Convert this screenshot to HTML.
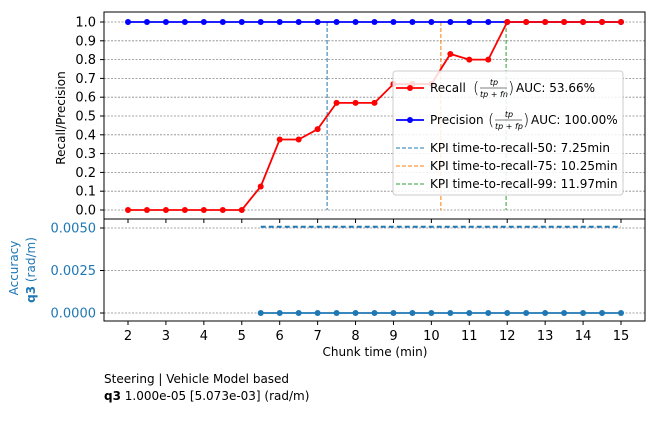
<!DOCTYPE html>
<html><head><meta charset="utf-8"><style>
body{margin:0;background:#fff;width:658px;height:430px;overflow:hidden}
svg{font-family:"DejaVu Sans","Liberation Sans",sans-serif}
</style></head><body>
<svg id="c" width="658" height="430"></svg>
<script>
const chunks=[2,2.5,3,3.5,4,4.5,5,5.5,6,6.5,7,7.5,8,8.5,9,9.5,10,10.5,11,11.5,12,12.5,13,13.5,14,14.5,15];
const recall=[0,0,0,0,0,0,0,0.125,0.375,0.375,0.43,0.57,0.57,0.57,0.67,0.67,0.67,0.83,0.8,0.8,1,1,1,1,1,1,1];
const precision=[1,1,1,1,1,1,1,1,1,1,1,1,1,1,1,1,1,1,1,1,1,1,1,1,1,1,1];
const kpiTimes=[7.25,10.25,11.97];
const kpiColors=["#1f77b4","#ff7f0e","#2ca02c"];
const accX=[5.5,6,6.5,7,7.5,8,8.5,9,9.5,10,10.5,11,11.5,12,12.5,13,13.5,14,14.5,15];
const accVals=[0,0,0,0,0,0,0,0,0,0,0,0,0,0,0,0,0,0,0,0];
const accBound=0.005073;
const xTicks=[2,3,4,5,6,7,8,9,10,11,12,13,14,15];
const yTicks=[0,0.1,0.2,0.3,0.4,0.5,0.6,0.7,0.8,0.9,1.0];
const accTicks=[0,0.0025,0.005];

const svg=document.getElementById('c');const NS='http://www.w3.org/2000/svg';
function el(t,a,txt){const e=document.createElementNS(NS,t);for(const k in a)e.setAttribute(k,a[k]);if(txt!==undefined)e.textContent=txt;svg.appendChild(e);return e;}
const X=v=>128+(v-2)*(493/13);
const Y=v=>210-v*188;
const YA=v=>313-v*(85/0.005);
const L=104,R=645,T1=12,B1=219,B2=321;
yTicks.forEach(v=>{let g=el('line',{x1:L,x2:R,y1:Y(v),y2:Y(v),stroke:'#888','stroke-width':0.8,'stroke-dasharray':'2,1.5'});
let t=el('text',{x:L-8,y:Y(v)+4.5,'text-anchor':'end','font-size':13,fill:'#000'},v.toFixed(1));
el('line',{x1:L-4,x2:L,y1:Y(v),y2:Y(v),stroke:'#000'});});
accTicks.forEach(v=>{let g=el('line',{x1:L,x2:R,y1:YA(v),y2:YA(v),stroke:'#888','stroke-width':0.8,'stroke-dasharray':'2,1.5'});
let t=el('text',{x:L-8,y:YA(v)+4.5,'text-anchor':'end','font-size':13,fill:'#1f77b4'},v.toFixed(4));
el('line',{x1:L-4,x2:L,y1:YA(v),y2:YA(v),stroke:'#000'});});
xTicks.forEach(v=>{el('line',{x1:X(v),x2:X(v),y1:B1,y2:B1+4,stroke:'#000'});el('line',{x1:X(v),x2:X(v),y1:B2,y2:B2+4,stroke:'#000'});
let t=el('text',{x:X(v),y:B2+19,'text-anchor':'middle','font-size':13},v);});
kpiTimes.forEach((k,i)=>{let l=el('line',{x1:X(k),x2:X(k),y1:Y(1),y2:Y(0),stroke:kpiColors[i],'stroke-width':1,'stroke-dasharray':'4,2'});});
function series(xs,ys,fy,col,name){let p=el('polyline',{points:xs.map((x,i)=>X(x)+','+fy(ys[i])).join(' '),fill:'none',stroke:col,'stroke-width':1.8});
xs.forEach((x,i)=>{let c=el('circle',{cx:X(x),cy:fy(ys[i]),r:3,fill:col});});}
series(chunks,precision,Y,'#0000ff','precision');
series(chunks,recall,Y,'#ff0000','recall');
series(accX,accVals,YA,'#1f77b4','accuracy');
let bl=el('line',{x1:X(accX[0]),x2:X(accX[accX.length-1]),y1:YA(accBound),y2:YA(accBound),stroke:'#1f77b4','stroke-width':2,'stroke-dasharray':'5,3'});
el('rect',{x:L,y:T1,width:R-L,height:B1-T1,fill:'none',stroke:'#000'});
el('rect',{x:L,y:B1,width:R-L,height:B2-B1,fill:'none',stroke:'#000'});
let lg=el('rect',{x:393,y:71,width:230,height:124,rx:3,fill:'#fff','fill-opacity':0.85,stroke:'#ccc'});
function fracEntry(y,label,lx,den,close,auc,c,name){
 el('line',{x1:396,x2:424,y1:y,y2:y,stroke:c,'stroke-width':1.8});el('circle',{cx:410,cy:y,r:3,fill:c});
 let t=el('text',{x:430,y:y+4,'font-size':12},label);
 el('text',{x:lx,y:y+5,'font-size':16,'font-weight':'200'},'(');
 let cx=(lx+7+close)/2;
 el('text',{x:cx,y:y-3,'font-size':8,'font-style':'italic','text-anchor':'middle'},'tp');
 el('line',{x1:lx+7,x2:close-1,y1:y,y2:y,stroke:'#000','stroke-width':0.6});
 el('text',{x:cx,y:y+9,'font-size':8,'font-style':'italic','text-anchor':'middle'},den);
 el('text',{x:close,y:y+5,'font-size':16,'font-weight':'200'},')');
 let a=el('text',{x:close+8,y:y+4,'font-size':12},auc);
}
fracEntry(88,'Recall',473,'tp + fn',508,'AUC: 53.66%','#ff0000','legend-recall');
fracEntry(120,'Precision',488,'tp + fp',523,'AUC: 100.00%','#0000ff','legend-precision');
[["KPI time-to-recall-50: 7.25min",148],["KPI time-to-recall-75: 10.25min",166],["KPI time-to-recall-99: 11.97min",184]].forEach(([txt,y],i)=>{el('line',{x1:396,x2:424,y1:y,y2:y,stroke:kpiColors[i],'stroke-width':1,'stroke-dasharray':'4,2'});
let t=el('text',{x:430,y:y+4,'font-size':12},txt);});
let a=el('text',{x:0,y:0,'font-size':12,'text-anchor':'middle',transform:'translate(65,118) rotate(-90)'},'Recall/Precision');
let b=el('text',{x:0,y:0,'font-size':12,'text-anchor':'middle',fill:'#1f77b4',transform:'translate(18,268) rotate(-90)'},'Accuracy');
let b2=el('text',{x:0,y:0,'font-size':12,'text-anchor':'middle',fill:'#1f77b4',transform:'translate(35,270) rotate(-90)'});b2.innerHTML='<tspan font-weight="bold">q3</tspan> (rad/m)';
let xt=el('text',{x:375,y:356,'font-size':12,'text-anchor':'middle'},'Chunk time (min)');
let c1=el('text',{x:104,y:383,'font-size':12},'Steering | Vehicle Model based');
let c2=el('text',{x:104,y:400,'font-size':12});c2.innerHTML='<tspan font-weight="bold">q3</tspan> 1.000e-05 [5.073e-03] (rad/m)';
</script>
</body></html>
